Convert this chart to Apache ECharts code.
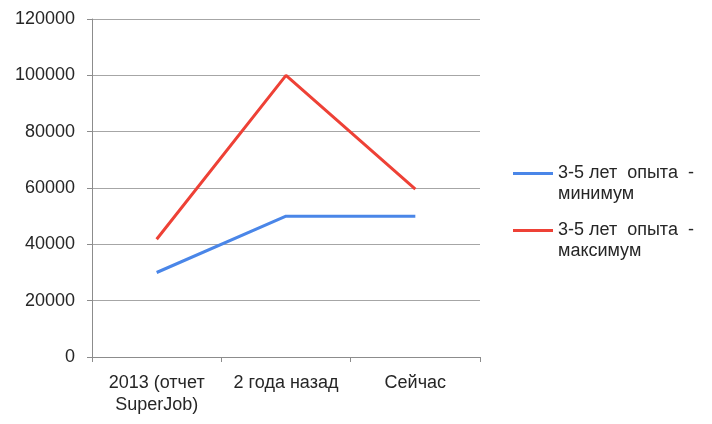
<!DOCTYPE html>
<html><head><meta charset="utf-8">
<script src="https://cdn.jsdelivr.net/npm/echarts@6/dist/echarts.min.js"></script>
<style>html,body{margin:0;padding:0;background:#fff}#c{width:712px;height:424px}</style>
</head><body><div id="c"></div>
<script>
const categories = ['2013 (отчет\nSuperJob)', '2 года назад', 'Сейчас'];
const minValues = [30000, 50000, 50000];
const maxValues = [41800, 100000, 59600];
const seriesNames = ['3-5 лет опыта - минимум', '3-5 лет опыта - максимум'];
const legendLines = {
  '3-5 лет опыта - минимум': ' \n3-5 лет  опыта  -\nминимум',
  '3-5 лет опыта - максимум': ' \n3-5 лет  опыта  -\nмаксимум'
};
const font = 'Liberation Sans, Arial, sans-serif';
const textColor = '#262626';
const chart = echarts.init(document.getElementById('c'));
chart.setOption({
  animation: false,
  grid: {left: 92, right: 232, top: 19, bottom: 67, containLabel: false},
  xAxis: {
    type: 'category', data: categories, boundaryGap: true,
    axisLine: {lineStyle: {color: '#8c8c8c', width: 1}},
    axisTick: {show: true, length: 5, lineStyle: {color: '#8c8c8c'}},
    axisLabel: {color: textColor, fontFamily: font, fontSize: 18, lineHeight: 22, margin: 15, interval: 0}
  },
  yAxis: {
    type: 'value', min: 0, max: 120000, interval: 20000,
    axisLine: {show: true, lineStyle: {color: '#8c8c8c', width: 1}},
    axisTick: {show: true, length: 5, lineStyle: {color: '#8c8c8c'}},
    splitLine: {lineStyle: {color: '#a6a6a6', width: 1}},
    axisLabel: {color: textColor, fontFamily: font, fontSize: 18, margin: 17, formatter: v => String(v)}
  },
  legend: {
    orient: 'vertical', left: 508, top: 137,
    itemWidth: 40, itemHeight: 3, itemGap: -6, icon: 'rect',
    data: seriesNames,
    formatter: n => legendLines[n],
    textStyle: {color: textColor, fontFamily: font, fontSize: 18, lineHeight: 21}
  },
  series: [
    {name: seriesNames[0], type: 'line', data: minValues, showSymbol: false, symbol: 'none',
     lineStyle: {color: '#4a86e8', width: 3}, itemStyle: {color: '#4a86e8'}},
    {name: seriesNames[1], type: 'line', data: maxValues, showSymbol: false, symbol: 'none',
     lineStyle: {color: '#ee4136', width: 3}, itemStyle: {color: '#ee4136'}}
  ]
});
</script></body></html>
